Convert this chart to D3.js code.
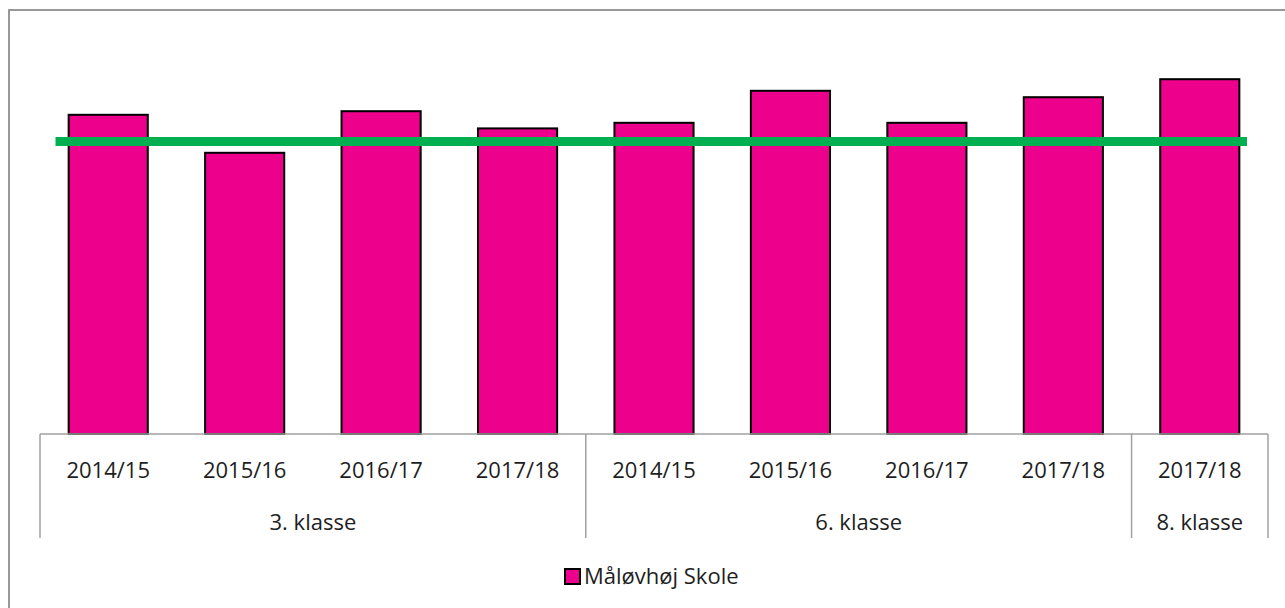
<!DOCTYPE html>
<html>
<head>
<meta charset="utf-8">
<script src="https://d3js.org/d3.v7.min.js"></script>
<style>
  body { margin: 0; background: #fff; }
  text { font-family: "Open Sans", "Noto Sans", sans-serif; fill: #1e1e1e; }
</style>
</head>
<body>
<svg id="chart"></svg>
<script>
// data (no y axis is shown, so units are relative)
const years = ["2014/15", "2015/16", "2016/17", "2017/18", "2014/15", "2015/16", "2016/17", "2017/18", "2017/18"];
const grades = ["3. klasse", "3. klasse", "3. klasse", "3. klasse", "6. klasse", "6. klasse", "6. klasse", "6. klasse", "8. klasse"];
const values = [79.8, 70.3, 80.7, 76.4, 77.8, 85.8, 77.8, 84.2, 88.7];
const reference = 73.1;
const seriesName = "Måløvhøj Skole";

const width = 1285, height = 608;
const svg = d3.select("#chart").attr("width", width).attr("height", height);

// outer chart border (right and bottom run off the picture)
svg.append("rect")
  .attr("x", 9).attr("y", 10)
  .attr("width", 1300).attr("height", 700)
  .attr("fill", "none")
  .attr("stroke", "#8a8a8a")
  .attr("stroke-width", 1.75);

const x = d3.scaleBand()
  .domain(d3.range(values.length))
  .range([40, 1268])
  .paddingInner(0.42)
  .paddingOuter(0.21);

const y = d3.scaleLinear().domain([0, 100]).range([434, 34]);

// bars
svg.selectAll("rect.bar")
  .data(values)
  .enter()
  .append("rect")
  .attr("class", "bar")
  .attr("x", (d, i) => x(i))
  .attr("y", d => y(d))
  .attr("width", x.bandwidth())
  .attr("height", d => y(0) - y(d))
  .attr("fill", "#ec008c")
  .attr("stroke", "#000")
  .attr("stroke-width", 2);

// reference line
svg.append("line")
  .attr("x1", 55.5).attr("x2", 1247)
  .attr("y1", y(reference)).attr("y2", y(reference))
  .attr("stroke", "#00b050")
  .attr("stroke-width", 9);

// category axis
const axisColor = "#a0a0a0";
const step = x.step();
const x0 = x.range()[0], x1 = x.range()[1];
svg.append("line")
  .attr("x1", x0).attr("x2", x1)
  .attr("y1", y(0)).attr("y2", y(0))
  .attr("stroke", axisColor).attr("stroke-width", 1.5);

// group boundaries
const groups = [];
grades.forEach((g, i) => {
  if (!groups.length || groups[groups.length - 1].name !== g) groups.push({name: g, start: i, end: i});
  else groups[groups.length - 1].end = i;
});
const bounds = [x0].concat(groups.map(g => x0 + (g.end + 1) * step));
svg.selectAll("line.sep")
  .data(bounds)
  .enter()
  .append("line")
  .attr("class", "sep")
  .attr("x1", d => d).attr("x2", d => d)
  .attr("y1", y(0)).attr("y2", 538)
  .attr("stroke", axisColor).attr("stroke-width", 1.5);

svg.selectAll("text.year")
  .data(years)
  .enter()
  .append("text")
  .attr("class", "year")
  .attr("x", (d, i) => x(i) + x.bandwidth() / 2)
  .attr("y", 478)
  .attr("text-anchor", "middle")
  .style("font-size", "22px")
  .text(d => d);

svg.selectAll("text.grade")
  .data(groups)
  .enter()
  .append("text")
  .attr("class", "grade")
  .attr("x", g => x0 + (g.start + g.end + 1) / 2 * step)
  .attr("y", 530)
  .attr("text-anchor", "middle")
  .style("font-size", "22px")
  .text(g => g.name);

// legend
const legend = svg.append("g").attr("transform", "translate(565,569)");
legend.append("rect")
  .attr("x", 0).attr("y", 0)
  .attr("width", 15).attr("height", 15)
  .attr("fill", "#ec008c")
  .attr("stroke", "#000")
  .attr("stroke-width", 2);
legend.append("text")
  .attr("x", 19).attr("y", 15)
  .style("font-size", "22px")
  .text(seriesName);
</script>
</body>
</html>
